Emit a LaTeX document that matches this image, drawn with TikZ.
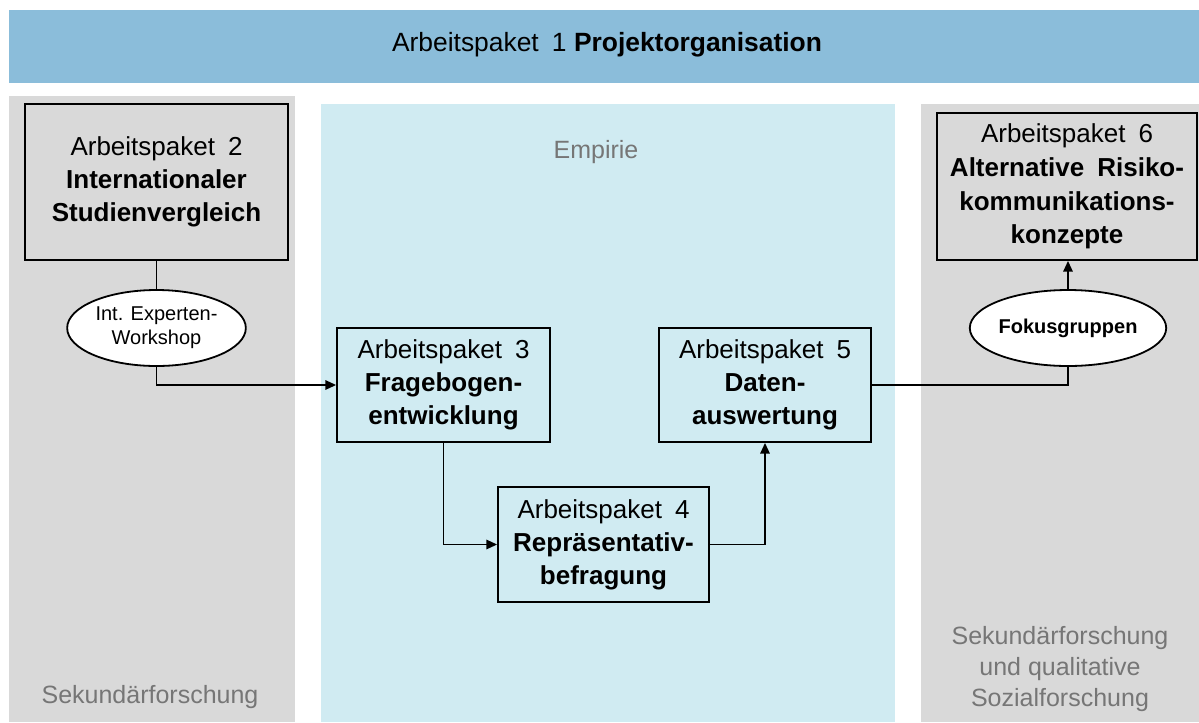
\documentclass[tikz,border=0pt]{standalone}
\usepackage{fontspec}
\setmainfont{Liberation Sans}
\usetikzlibrary{arrows.meta,shapes.geometric}
\definecolor{barblue}{HTML}{8BBDDA}
\definecolor{panelgray}{HTML}{D9D9D9}
\definecolor{panelblue}{HTML}{D0EBF2}
\definecolor{labelgray}{HTML}{767676}
\tikzset{
  apbox/.style={draw=black, line width=1.35pt, align=center, inner sep=0pt,
    font=\fontsize{19.5}{24.75}\selectfont},
  conn/.style={line width=1.35pt, draw=black},
  arr/.style={conn, -{Triangle[length=8pt,width=7pt]}},
  ellnode/.style={ellipse, draw=black, fill=white, line width=1.35pt, inner sep=0pt,
    minimum width=134pt, minimum height=57pt, align=center,
    font=\fontsize{15}{18}\selectfont},
  panellabel/.style={text=labelgray, align=center, font=\fontsize{18.75}{23}\selectfont}
}
\newcommand{\apgap}{\hspace{0.5em}}
\begin{document}
\begin{tikzpicture}[x=0.75pt,y=-0.75pt]
\useasboundingbox (0,0) rectangle (1199,722);
% top bar
\fill[barblue] (9,10) rectangle (1199,83);
\node[font=\fontsize{19.8}{24}\selectfont] (ap1) at (607,45) {Arbeitspaket\apgap 1 \textbf{Projektorganisation}};
% panels
\fill[panelgray] (9,96) rectangle (295,722);
\fill[panelblue] (321,104) rectangle (895,722);
\fill[panelgray] (921,104) rectangle (1199,722);
\node[panellabel] (empirie) at (596,152) {Empirie};
\node[panellabel] (sek) at (150,697) {Sekundärforschung};
\node[panellabel] (sekqual) at (1060,669) {Sekundärforschung\\und qualitative\\Sozialforschung};
% boxes
\node[apbox, fill=panelgray, minimum width=197.25pt, minimum height=117pt] (ap2) at (156.5,182)
  {Arbeitspaket\apgap 2\\\textbf{Internationaler}\\\textbf{Studienvergleich}};
\node[apbox, fill=panelblue, minimum width=159.75pt, minimum height=85.5pt] (ap3) at (443.5,385)
  {Arbeitspaket\apgap 3\\\textbf{Fragebogen-}\\\textbf{entwicklung}};
\node[apbox, fill=panelblue, minimum width=158.25pt, minimum height=86.25pt] (ap4) at (603.5,544.5)
  {Arbeitspaket\apgap 4\\\textbf{Repräsentativ-}\\\textbf{befragung}};
\node[apbox, fill=panelblue, minimum width=159pt, minimum height=85.5pt] (ap5) at (765,385)
  {Arbeitspaket\apgap 5\\\textbf{Daten-}\\\textbf{auswertung}};
\node[apbox, fill=panelgray, minimum width=195pt, minimum height=110.25pt,
  font=\fontsize{19.5}{25.3}\selectfont] (ap6) at (1067,186.5)
  {Arbeitspaket\apgap 6\\\textbf{Alternative\apgap Risiko-}\\\textbf{kommunikations-}\\\textbf{konzepte}};
% ellipses
\node[ellnode] (e1) at (156.5,328) {Int. Experten-\\Workshop};
\node[ellnode] (e2) at (1068,328) {\textbf{Fokusgruppen}};
% connectors
\draw[conn] (ap2.south) -- (e1.north);
\draw[arr] (e1.south) |- (ap3.west);
\draw[arr] (ap3.south) |- (ap4.west);
\draw[arr] (ap4.east) -| (ap5.south);
\draw[conn] (ap5.east) -| (e2.south);
\draw[arr] (e2.north) -- (e2.north |- ap6.south);
\end{tikzpicture}
\end{document}
